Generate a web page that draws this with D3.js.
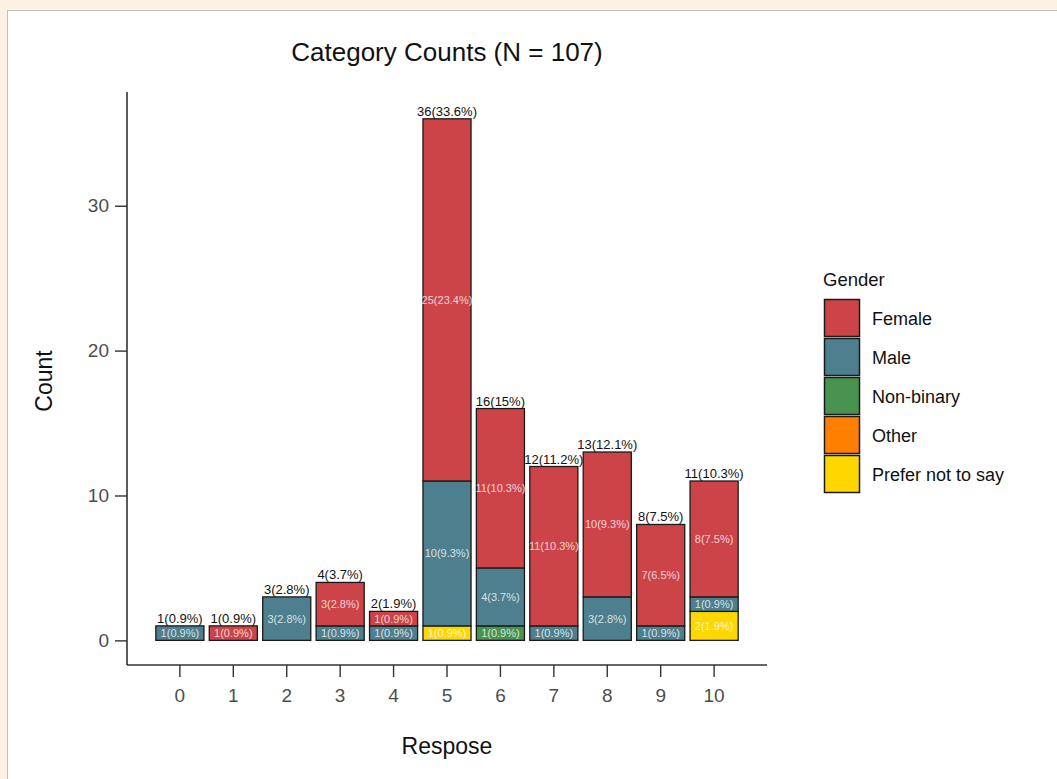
<!DOCTYPE html>
<html>
<head>
<meta charset="utf-8">
<script src="https://cdn.jsdelivr.net/npm/d3@7/dist/d3.min.js"></script>
<style>
  html, body { margin: 0; padding: 0; background: #fdf1e4; }
  svg { display: block; }
  text { font-family: "Liberation Sans", Arial, sans-serif; }
</style>
</head>
<body>
<svg id="chart" width="1057" height="779"></svg>
<script>
// ---- data ----
const responses = [0, 1, 2, 3, 4, 5, 6, 7, 8, 9, 10];
const genders = ["Female", "Male", "Non-binary", "Other", "Prefer not to say"];
const genderColors = ["#cc4448", "#4e7f8e", "#47934f", "#ff7f00", "#ffd700"];
const female    = [0, 1, 0, 3, 1, 25, 11, 11, 10, 7, 8];
const male      = [1, 0, 3, 1, 1, 10, 4, 1, 3, 1, 1];
const nonBinary = [0, 0, 0, 0, 0, 0, 1, 0, 0, 0, 0];
const other     = [0, 0, 0, 0, 0, 0, 0, 0, 0, 0, 0];
const preferNot = [0, 0, 0, 0, 0, 1, 0, 0, 0, 0, 2];
const yTicks = [0, 10, 20, 30];
const titleText = "Category Counts (N = 107)";
const xTitle = "Respose";
const yTitle = "Count";
const legendTitle = "Gender";

// ---- build table ----
const seriesByGender = {
  "Female": female, "Male": male, "Non-binary": nonBinary,
  "Other": other, "Prefer not to say": preferNot
};
const table = responses.map((r, i) => {
  const row = { response: r };
  genders.forEach(g => row[g] = seriesByGender[g][i]);
  row.total = genders.reduce((s, g) => s + row[g], 0);
  return row;
});
const N = d3.sum(table, d => d.total);
const fmt = v => `${v}(${+(v / N * 100).toFixed(1)}%)`;
const color = d3.scaleOrdinal().domain(genders).range(genderColors);

const svg = d3.select("#chart");

// page panel
svg.append("rect").attr("x", 7.5).attr("y", 10.5).attr("width", 1100).attr("height", 800)
  .attr("fill", "#ffffff").attr("stroke", "#c8c0b6").attr("stroke-width", 1);

// ---- scales ----
const x = d3.scaleBand().domain(responses).range([127, 767])
  .paddingInner(0.1).paddingOuter(0.54);
const y = d3.scaleLinear().domain([-1.7, 37.85]).range([665, 92]);

// ---- stacks ----
const stackKeys = genders.slice().reverse(); // bottom-up: Prefer ... Female
const stacked = d3.stack().keys(stackKeys)(table);

const g = svg.append("g");
stacked.forEach(layer => {
  const key = layer.key;
  layer.forEach(seg => {
    const v = seg[1] - seg[0];
    if (v <= 0) return;
    const r = seg.data.response;
    g.append("rect")
      .attr("x", x(r)).attr("width", x.bandwidth())
      .attr("y", y(seg[1])).attr("height", y(seg[0]) - y(seg[1]))
      .attr("fill", color(key)).attr("stroke", "#1a1a1a").attr("stroke-width", 1.3);
  });
});
// segment labels
stacked.forEach(layer => {
  layer.forEach(seg => {
    const v = seg[1] - seg[0];
    if (v <= 0) return;
    const r = seg.data.response;
    g.append("text")
      .attr("x", x(r) + x.bandwidth() / 2)
      .attr("y", y((seg[0] + seg[1]) / 2) + 4)
      .attr("text-anchor", "middle")
      .attr("font-size", 11)
      .attr("fill", "#ffffff").attr("fill-opacity", 0.78)
      .text(fmt(v));
  });
});
// total labels
table.forEach(d => {
  g.append("text")
    .attr("x", x(d.response) + x.bandwidth() / 2)
    .attr("y", y(d.total) - 3)
    .attr("text-anchor", "middle")
    .attr("font-size", 13)
    .attr("fill", "#111")
    .text(fmt(d.total));
});

// ---- axes ----
const yAxis = svg.append("g").attr("transform", "translate(127,0)")
  .call(d3.axisLeft(y).tickValues(yTicks).tickSize(12).tickPadding(6).tickFormat(d3.format("d")));
yAxis.select(".domain").attr("d", `M0,${y.range()[0]}V${y.range()[1]}`);
const xAxis = svg.append("g").attr("transform", "translate(0,665)")
  .call(d3.axisBottom(x).tickSize(12).tickPadding(12));
xAxis.select(".domain").attr("d", `M${x.range()[0]},0H${x.range()[1]}`);
[yAxis, xAxis].forEach(a => {
  a.select(".domain").attr("stroke", "#333").attr("stroke-width", 1.6);
  a.selectAll(".tick line").attr("stroke", "#333").attr("stroke-width", 1.4);
  a.selectAll(".tick text").attr("fill", "#4d4d4d").attr("font-size", 19)
    .attr("font-family", "'Liberation Sans', Arial, sans-serif");
});

// ---- titles ----
svg.append("text").attr("x", 447).attr("y", 61).attr("text-anchor", "middle")
  .attr("font-size", 26).attr("fill", "#111").text(titleText);
svg.append("text").attr("x", 447).attr("y", 754).attr("text-anchor", "middle")
  .attr("font-size", 23).attr("fill", "#111").text(xTitle);
svg.append("text").attr("transform", "translate(52,381) rotate(-90)").attr("text-anchor", "middle")
  .attr("font-size", 23).attr("fill", "#111").text(yTitle);

// ---- legend ----
const leg = svg.append("g").attr("transform", "translate(824,299)");
leg.append("text").attr("x", -1).attr("y", -13).attr("font-size", 18.5).attr("fill", "#111").text(legendTitle);
genders.forEach((k, i) => {
  leg.append("rect").attr("x", 0.5).attr("y", i * 39 + 0.5).attr("width", 35).attr("height", 37)
    .attr("fill", color(k)).attr("stroke", "#1a1a1a").attr("stroke-width", 1.5);
  leg.append("text").attr("x", 48).attr("y", i * 39 + 19 + 6.5)
    .attr("font-size", 18).attr("fill", "#111").text(k);
});
</script>
</body>
</html>
